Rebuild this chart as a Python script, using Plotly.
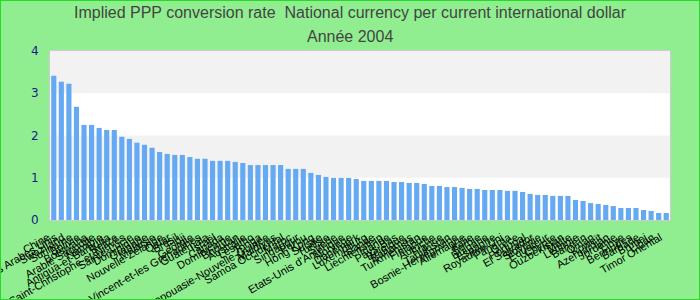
import plotly.graph_objects as go

countries = [
    "Chine", "Emirats Arabes Unis", "Swaziland", "Suriname", "Bolivie", "Botswana",
    "Arabie Saoudite", "Namibie", "Antigua-et-Barbuda", "Belize",
    "Saint-Christophe-et-Niévès", "Sainte-Lucie", "Dominique", "Grenade",
    "Malaisie", "Nouvelle-Zélande", "Qatar", "Brésil", "Fidji", "Géorgie",
    "Saint-Vincent-et-les Grenadines", "Guatemala", "Israël", "Canada",
    "Dominicaine", "Bhoutan", "Australie", "Lesotho", "Tonga",
    "Papouasie-Nouvelle-Guinée", "Maldives", "Samoa Occidental", "Maroc",
    "Singapour", "Pérou", "Hong Kong", "Suisse", "Tunisie", "Suède",
    "Etats-Unis d'Amérique", "Norvège", "Danemark", "Luxembourg",
    "Islande", "Liechtenstein", "Irlande", "Pays-Bas", "Belgique", "Bahamas",
    "Turkménistan", "Finlande", "Autriche", "France", "Tadjikistan",
    "Bosnie-Herzégovine", "Allemagne", "Italie", "Serbie", "Bulgarie", "Espagne",
    "Royaume-Uni", "Panama", "Grèce", "Portugal", "El Salvador", "Slovénie",
    "Equateur", "Chypre", "Ouzbékistan", "Malte", "Lettonie", "Bahreïn", "Oman",
    "Koweït", "Azerbaïdjan", "Jordanie", "Libye", "Bermudes", "Barbade", "Brunei",
    "Liban", "Timor Oriental",
]

values = [
    3.415, 3.27, 3.225, 2.68, 2.25, 2.25, 2.18, 2.13, 2.13, 1.97,
    1.92, 1.83, 1.78, 1.71, 1.61, 1.565, 1.54, 1.54, 1.49, 1.45,
    1.45, 1.40, 1.40, 1.40, 1.375, 1.35, 1.30, 1.30, 1.30, 1.30,
    1.30, 1.21, 1.21, 1.21, 1.115, 1.067, 1.02, 0.996, 0.996, 0.996,
    0.97, 0.925, 0.925, 0.925, 0.925, 0.90, 0.90, 0.877, 0.877, 0.854,
    0.806, 0.806, 0.78, 0.78, 0.76, 0.735, 0.735, 0.71, 0.71, 0.71,
    0.69, 0.69, 0.664, 0.617, 0.593, 0.593, 0.57, 0.57, 0.57, 0.474,
    0.45, 0.40, 0.38, 0.356, 0.33, 0.285, 0.285, 0.285, 0.237, 0.213,
    0.166, 0.166,
]

y_ticks = [0, 1, 2, 3, 4]
title_lines = ["Implied PPP conversion rate  National currency per current international dollar",
               "Année 2004"]

fig = go.Figure()
fig.add_trace(go.Bar(
    x=countries, y=values,
    marker=dict(color="#64A9F2", line=dict(width=0)),
))

# alternating bands
for lo in [1, 3]:
    fig.add_shape(type="rect", xref="paper", yref="y", x0=0, x1=1, y0=lo, y1=lo + 1,
                  fillcolor="#F2F2F2", line=dict(width=0), layer="below")

# outer border
fig.add_shape(type="rect", xref="paper", yref="paper", x0=-50/620, x1=1 + 30/620,
              y0=-80/169, y1=1 + 51/169, line=dict(color="#22DD22", width=2),
              fillcolor="rgba(0,0,0,0)")

title_font = dict(family="Liberation Sans Narrow, Liberation Sans, Arial", size=16, color="#444444")
for line, ypix in zip(title_lines, [13, 36]):
    fig.add_annotation(text=line, xref="paper", yref="paper",
                       x=(350 - 50) / 620, y=1 + (51 - ypix) / 169,
                       xanchor="center", yanchor="middle", showarrow=False,
                       font=title_font)

fig.update_layout(
    width=700, height=300,
    margin=dict(l=50, r=30, t=51, b=80),
    paper_bgcolor="#90EE90",
    plot_bgcolor="#FFFFFF",
    bargap=0.32,
    showlegend=False,
    xaxis=dict(
        tickmode="array", tickvals=countries, ticktext=countries,
        tickangle=-30, tickfont=dict(family="Liberation Sans, Arial", size=11, color="#000000"),
        showgrid=False, showline=True, linecolor="#CCCCCC", mirror=True,
        ticks="", automargin=False, ticklabelstandoff=6, ticklabelshift=-6,
    ),
    yaxis=dict(
        range=[0, 4], tickvals=y_ticks, ticktext=[str(t) for t in y_ticks],
        tickfont=dict(family="DejaVu Sans", size=12, color="#1A1A8C"),
        showgrid=False, zeroline=False, showline=True, linecolor="#CCCCCC", mirror=True,
        ticks="", ticklabelstandoff=8, automargin=False,
    ),
)

fig.write_html("out.html")
